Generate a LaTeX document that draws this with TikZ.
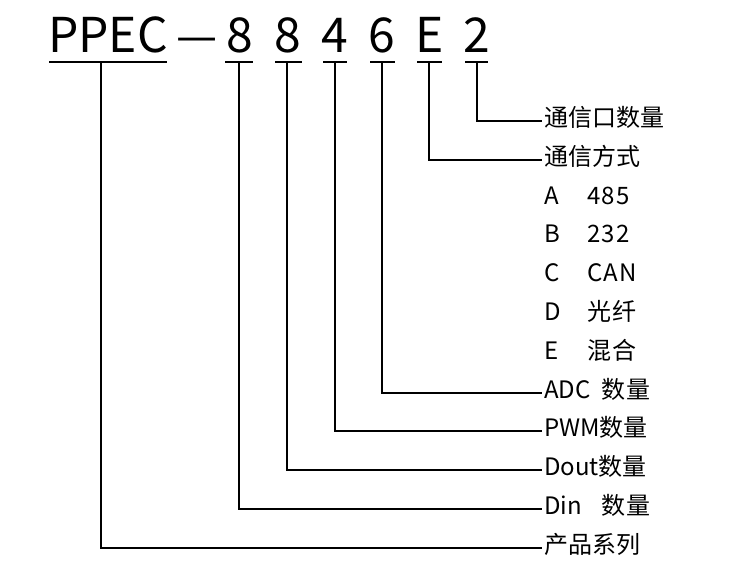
\documentclass[tikz,border=0pt]{standalone}
\usepackage{fontspec}
\setmainfont{Noto Sans CJK SC}
\begin{document}
\begin{tikzpicture}[x=1pt,y=-1pt,
  ttl/.style={inner sep=0pt,anchor=base,font=\fontsize{48}{48}\selectfont},
  lbl/.style={inner ysep=0pt,inner xsep=3pt,anchor=west,text height=15pt,text depth=4pt,font=\fontsize{24}{24}\selectfont},
  sub/.style={inner sep=0pt,anchor=base west,font=\fontsize{24}{24}\selectfont\addfontfeature{LetterSpace=6}},
  conn/.style={line width=1.8pt,line cap=rect},
  uline/.style={line width=1.8pt}]
\useasboundingbox (0,0) rectangle (752,575);
% title
\node[ttl,anchor=base west] (tp) at (48,53) {PPEC};
\node[inner sep=0pt,anchor=base,font=\fontsize{46}{46}\selectfont] (tdash) at (197.5,53) {—};
\node[ttl] (t1) at (240,53) {8};
\node[ttl] (t2) at (288,53) {8};
\node[ttl] (t3) at (335,53) {4};
\node[ttl] (t4) at (382,53) {6};
\node[ttl] (t5) at (430,53) {E};
\node[ttl] (t6) at (477,53) {2};
% underlines
\draw[uline] (49,62) -- (167,62);
\draw[uline] (225,62) -- (253,62);
\draw[uline] (275,62) -- (302,62);
\draw[uline] (323,62) -- (347,62);
\draw[uline] (370,62) -- (395,62);
\draw[uline] (417,62) -- (442,62);
\draw[uline] (465,62) -- (488,62);
\coordinate (cp) at (101,62);
\coordinate (c1) at (239,62);
\coordinate (c2) at (287,62);
\coordinate (c3) at (335,62);
\coordinate (c4) at (382,62);
\coordinate (c5) at (429,62);
\coordinate (c6) at (477,62);
% labels
\node[lbl] (l0) at (541,121) {通信口数量};
\node[lbl] (l1) at (541,160) {通信方式};
\node[lbl] (l2) at (541,199) {A};
\node[lbl] (l3) at (541,237) {B};
\node[lbl] (l4) at (541,276) {C};
\node[lbl] (l5) at (541,315) {D};
\node[lbl] (l6) at (541,354) {E};
\node[lbl] (l7) at (541,393) {ADC};
\node[lbl] (l8) at (541,431) {PWM数量};
\node[lbl] (l9) at (541,470) {Dout数量};
\node[lbl] (l10) at (541,509) {Din};
\node[lbl] (l11) at (541,548) {产品系列};
\node[sub] (s2) at (587,0 |- l2.base) {485};
\node[sub] (s3) at (587,0 |- l3.base) {232};
\node[sub] (s4) at (587,0 |- l4.base) {CAN};
\node[sub] (s5) at (587,0 |- l5.base) {光纤};
\node[sub] (s6) at (587,0 |- l6.base) {混合};
\node[sub] (s7) at (601,0 |- l7.base) {数量};
\node[sub] (s10) at (601,0 |- l10.base) {数量};
% connectors
\draw[conn] (c6) |- (l0.west);
\draw[conn] (c5) |- (l1.west);
\draw[conn] (c4) |- (l7.west);
\draw[conn] (c3) |- (l8.west);
\draw[conn] (c2) |- (l9.west);
\draw[conn] (c1) |- (l10.west);
\draw[conn] (cp) |- (l11.west);
\end{tikzpicture}
\end{document}
